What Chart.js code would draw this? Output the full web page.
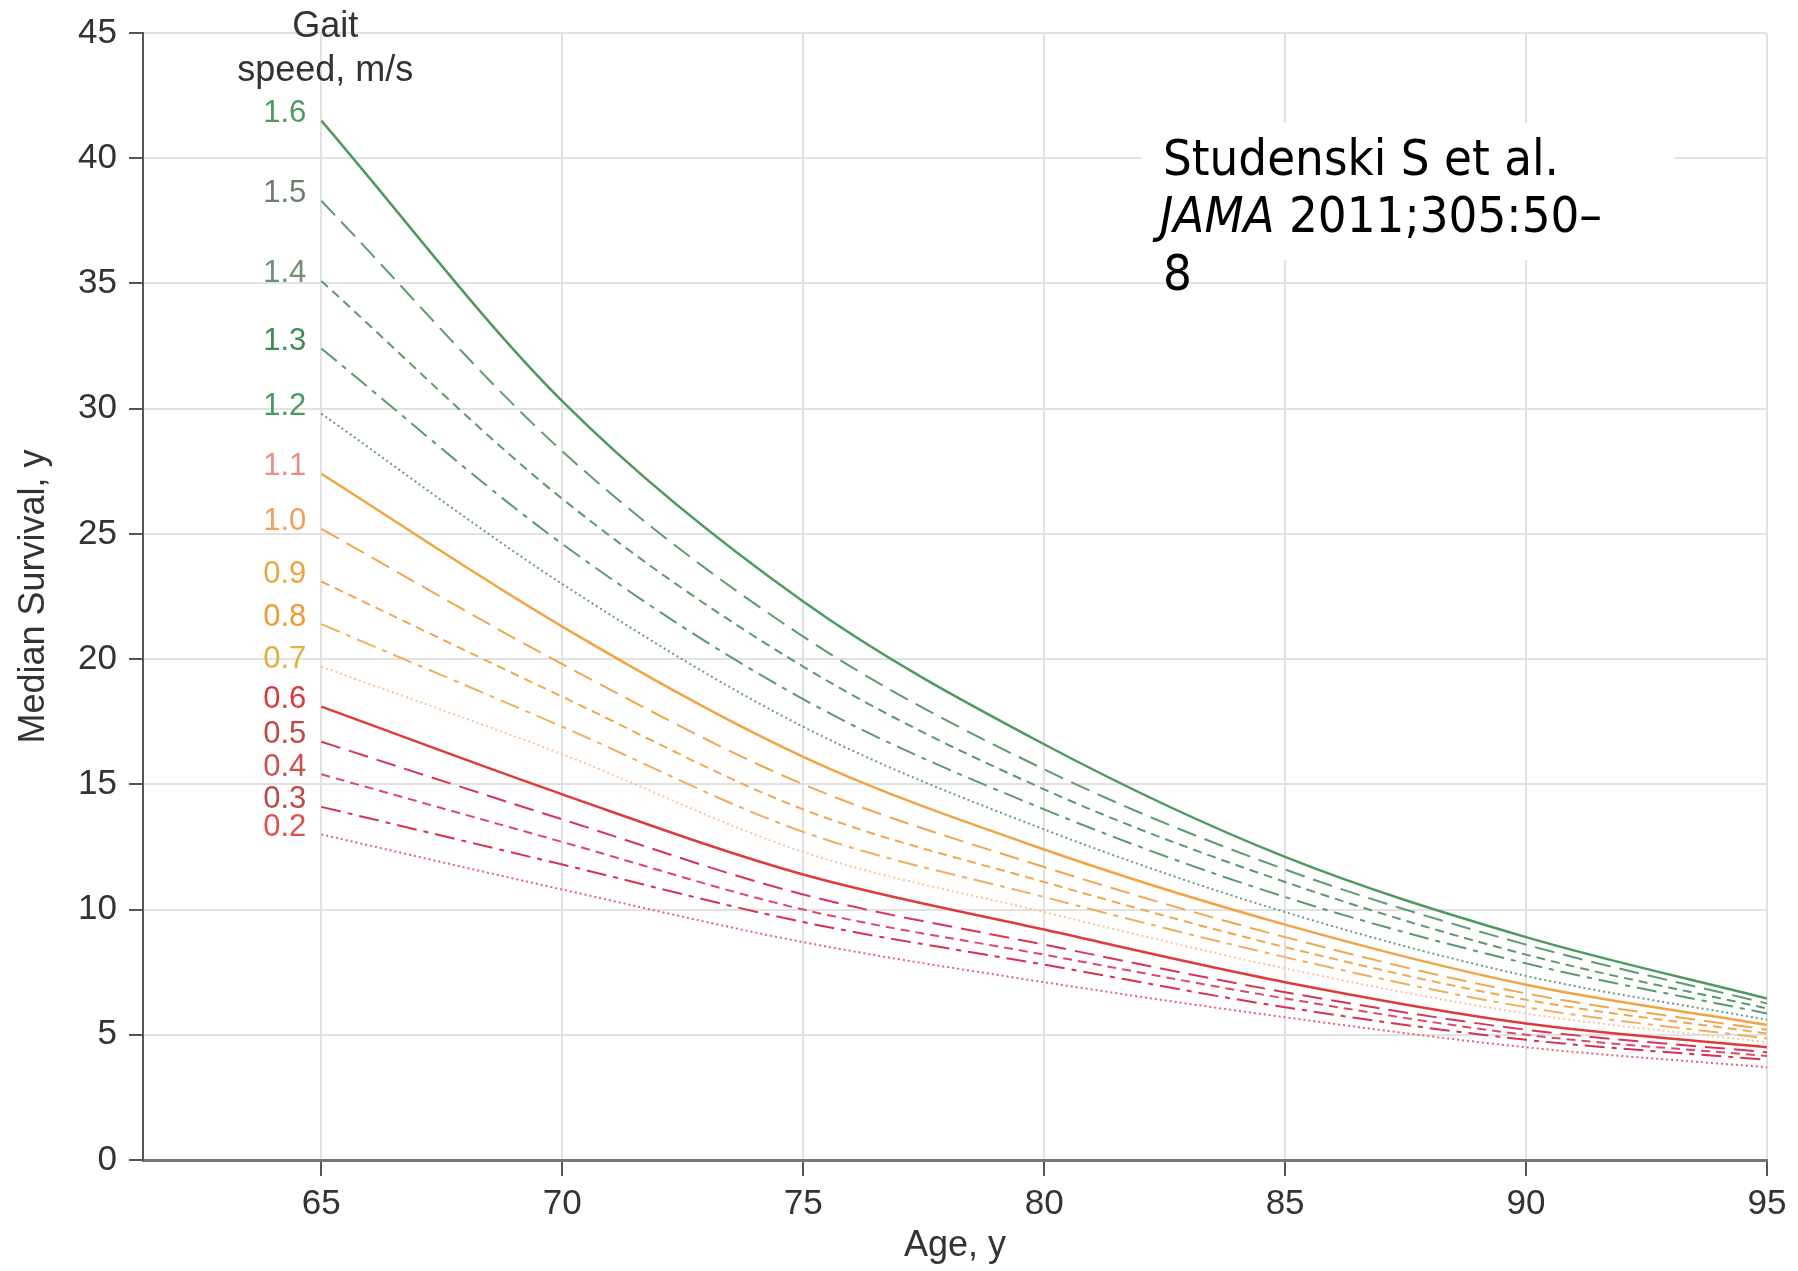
<!DOCTYPE html>
<html>
<head>
<meta charset="utf-8">
<script src="https://cdn.jsdelivr.net/npm/chart.js@4.4.0/dist/chart.umd.min.js"></script>
<style>
html,body{margin:0;padding:0;background:#fff;}
#wrap{width:1798px;height:1271px;position:relative;}
</style>
</head>
<body>
<div id="wrap"><canvas id="c"></canvas></div>
<script>
// ---- data ----
const ages = [65, 70, 75, 80, 85, 90, 95];
const xTickValues = [65, 70, 75, 80, 85, 90, 95];
const yTickValues = [0, 5, 10, 15, 20, 25, 30, 35, 40, 45];
const gaitLabels = ['1.6','1.5','1.4','1.3','1.2','1.1','1.0','0.9','0.8','0.7','0.6','0.5','0.4','0.3','0.2'];

const gait16 = [41.5, 30.3, 22.3, 16.6, 12.1, 8.9, 6.45];
const gait15 = [38.3, 28.3, 20.9, 15.6, 11.6, 8.6, 6.25];
const gait14 = [35.1, 26.4, 19.7, 14.8, 11.1, 8.2, 6.05];
const gait13 = [32.4, 24.6, 18.4, 14.0, 10.5, 7.85, 5.85];
const gait12 = [29.8, 23.0, 17.3, 13.2, 9.9, 7.35, 5.6];
const gait11 = [27.4, 21.3, 16.1, 12.4, 9.4, 7.0, 5.4];
const gait10 = [25.2, 19.8, 15.0, 11.7, 8.9, 6.65, 5.2];
const gait09 = [23.1, 18.5, 14.0, 11.1, 8.5, 6.4, 5.05];
const gait08 = [21.4, 17.3, 13.1, 10.5, 8.1, 6.1, 4.85];
const gait07 = [19.7, 16.2, 12.3, 9.9, 7.65, 5.85, 4.7];
const gait06 = [18.1, 14.6, 11.4, 9.2, 7.1, 5.45, 4.5];
const gait05 = [16.7, 13.6, 10.6, 8.6, 6.7, 5.2, 4.3];
const gait04 = [15.4, 12.7, 10.0, 8.2, 6.45, 5.0, 4.15];
const gait03 = [14.1, 11.8, 9.5, 7.8, 6.1, 4.8, 4.0];
const gait02 = [13.0, 10.8, 8.7, 7.1, 5.7, 4.5, 3.7];

const seriesValues = [gait16, gait15, gait14, gait13, gait12, gait11, gait10, gait09, gait08, gait07, gait06, gait05, gait04, gait03, gait02];

// ---- styles ----
const lineColors = ['#4e9a5e','#5e9a72','#5a9a6e','#5a9a72','#6a9a8a',
                    '#f2a445','#f0a850','#f0a850','#eeb060','#f5c6a0',
                    '#e03a3a','#d83458','#e04868','#d83050','#e8607a'];
const labelColors = ['#4f9a62','#6a7f70','#6f8f78','#3f8c52','#4a9a60',
                     '#e8908a','#f0a060','#eaa640','#f09a30','#e0b040',
                     '#d83a3a','#c84545','#d05050','#c04848','#e05050'];
const dashPatterns = [[], [20,9], [9,6], [20,7,5,7], [2,3]];

const datasets = seriesValues.map((vals, i) => ({
  label: gaitLabels[i],
  data: ages.map((a, j) => ({x: a, y: vals[j]})),
  borderColor: lineColors[i],
  borderWidth: (i % 5 === 0) ? 2.5 : 2,
  borderDash: dashPatterns[i % 5],
  pointRadius: 0,
  fill: false,
  cubicInterpolationMode: 'monotone'
}));

const FONT = '"Liberation Sans", Arial, Helvetica, sans-serif';

const annotations = {
  id: 'annotations',
  afterDraw(chart) {
    const {ctx, scales: {x, y}} = chart;
    ctx.save();
    // Gait speed header
    ctx.fillStyle = '#333';
    ctx.font = '36px ' + FONT;
    ctx.textAlign = 'center';
    ctx.textBaseline = 'middle';
    const gx = x.getPixelForValue(65) + 4;
    ctx.fillText('Gait', gx, 27);
    ctx.fillText('speed, m/s', gx, 71);
    // series labels
    ctx.font = '31px ' + FONT;
    ctx.textAlign = 'right';
    seriesValues.forEach((vals, i) => {
      ctx.fillStyle = labelColors[i];
      ctx.fillText(gaitLabels[i], x.getPixelForValue(65) - 15, y.getPixelForValue(vals[0]) - 7);
    });
    // citation box
    ctx.fillStyle = '#fff';
    ctx.fillRect(1142, 123, 532, 137);
    const cfont = '"DejaVu Sans Condensed", "DejaVu Sans", sans-serif';
    ctx.font = '50px ' + cfont;
    const w1 = ctx.measureText('Studenski S et al.').width;
    const sx = 396 / w1;
    ctx.translate(1163, 0);
    ctx.scale(sx, 1);
    ctx.fillStyle = '#000';
    ctx.textAlign = 'left';
    ctx.textBaseline = 'alphabetic';
    ctx.fillText('Studenski S et al.', 0, 175);
    ctx.font = 'italic 50px ' + cfont;
    ctx.fillText('JAMA', -3, 232);
    const wj = ctx.measureText('JAMA ').width;
    ctx.font = '50px ' + cfont;
    ctx.fillText('2011;305:50\u2013', -3 + wj, 232);
    ctx.fillText('8', 0, 290);
    ctx.restore();
  }
};

new Chart(document.getElementById('c'), {
  type: 'line',
  data: { datasets },
  options: {
    responsive: true,
    maintainAspectRatio: false,
    devicePixelRatio: 1,
    animation: false,
    layout: { padding: { left: 0, right: 31, top: 28, bottom: 0 } },
    plugins: { legend: { display: false }, tooltip: { enabled: false } },
    scales: {
      x: {
        type: 'linear',
        min: 61.3,
        max: 95,
        afterBuildTicks: s => { s.ticks = xTickValues.map(v => ({value: v})); },
        afterFit: s => { s.height = 111; },
        ticks: { font: { size: 35, family: FONT }, color: '#333', padding: 7, maxRotation: 0, autoSkip: false, includeBounds: false },
        grid: { color: '#e2e2e2', lineWidth: 2, tickColor: '#555', tickLength: 16, tickWidth: 2 },
        border: { color: '#777', width: 3 },
        title: { display: true, text: 'Age, y', font: { size: 36, family: FONT }, color: '#333', padding: { top: 0, bottom: 3 } }
      },
      y: {
        type: 'linear',
        min: 0,
        max: 45,
        afterBuildTicks: s => { s.ticks = yTickValues.map(v => ({value: v})); },
        afterFit: s => { s.width = 143; },
        ticks: { font: { size: 35, family: FONT }, color: '#333', padding: 12, autoSkip: false },
        grid: { color: '#e2e2e2', lineWidth: 2, tickColor: '#555', tickLength: 14, tickWidth: 2 },
        border: { color: '#555', width: 2 },
        title: { display: true, text: 'Median Survival, y', font: { size: 36, family: FONT }, color: '#333', padding: { top: 12, bottom: 0 } }
      }
    }
  },
  plugins: [annotations]
});
</script>
</body>
</html>
